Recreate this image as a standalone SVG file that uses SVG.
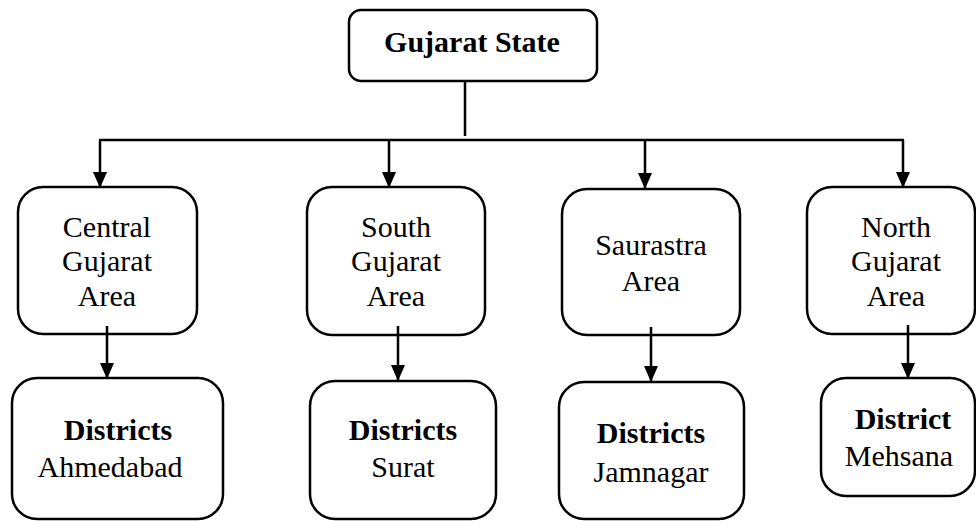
<svg xmlns="http://www.w3.org/2000/svg" width="976" height="521" viewBox="0 0 976 521">
<style>
.box{fill:#fff;stroke:#000;stroke-width:2.5}
.t{font-family:"Liberation Serif","Times New Roman",serif;font-size:30px;fill:#000;text-anchor:middle}
.b{font-weight:bold}
.c{fill:none;stroke:#000;stroke-width:2.5}
</style>
<defs>
<marker id="ah" markerUnits="userSpaceOnUse" markerWidth="16" markerHeight="16" viewBox="0 0 16 16" refX="16" refY="8" orient="auto">
<path d="M0,1 L16,8 L0,15 Z" fill="#000"/>
</marker>
</defs>
<rect width="976" height="521" fill="#fff"/>
<g id="connectors">
<line class="c" x1="465" y1="81" x2="465" y2="136"/>
<line class="c" x1="99" y1="140" x2="904" y2="140"/>
<line class="c" x1="100" y1="140" x2="100" y2="188" marker-end="url(#ah)"/>
<line class="c" x1="389" y1="140" x2="389" y2="188" marker-end="url(#ah)"/>
<line class="c" x1="645" y1="140" x2="645" y2="189" marker-end="url(#ah)"/>
<line class="c" x1="903" y1="140" x2="903" y2="188" marker-end="url(#ah)"/>
</g>
<g id="n-state">
<rect class="box" x="349" y="10" width="248" height="71" rx="12"/>
<text class="t b" x="472" y="52">Gujarat State</text>
</g>
<g id="n-central">
<rect class="box" x="18" y="187" width="179" height="147" rx="25"/>
<text class="t" x="107" y="237">Central</text>
<text class="t" x="107" y="271">Gujarat</text>
<text class="t" x="107" y="306">Area</text>
</g>
<g id="n-south">
<rect class="box" x="307" y="187" width="178" height="148" rx="25"/>
<text class="t" x="396" y="237">South</text>
<text class="t" x="396" y="271">Gujarat</text>
<text class="t" x="396" y="306">Area</text>
</g>
<g id="n-saurastra">
<rect class="box" x="562" y="189" width="178" height="146" rx="25"/>
<text class="t" x="651" y="255">Saurastra</text>
<text class="t" x="651" y="291">Area</text>
</g>
<g id="n-north">
<rect class="box" x="807" y="187" width="168" height="147" rx="25"/>
<text class="t" x="896" y="237">North</text>
<text class="t" x="896" y="271">Gujarat</text>
<text class="t" x="896" y="306">Area</text>
</g>
<g id="connectors2">
<line class="c" x1="107" y1="326" x2="107" y2="379" marker-end="url(#ah)"/>
<line class="c" x1="398" y1="326" x2="398" y2="381" marker-end="url(#ah)"/>
<line class="c" x1="651" y1="327" x2="651" y2="382" marker-end="url(#ah)"/>
<line class="c" x1="908" y1="325" x2="908" y2="379" marker-end="url(#ah)"/>
</g>
<g id="n-ahmedabad">
<rect class="box" x="12" y="378" width="211" height="141" rx="25"/>
<text class="t b" x="118" y="440">Districts</text>
<text class="t" x="110" y="477">Ahmedabad</text>
</g>
<g id="n-surat">
<rect class="box" x="310" y="381" width="186" height="138" rx="25"/>
<text class="t b" x="403" y="440">Districts</text>
<text class="t" x="403" y="477">Surat</text>
</g>
<g id="n-jamnagar">
<rect class="box" x="559" y="382" width="185" height="137" rx="25"/>
<text class="t b" x="651" y="443">Districts</text>
<text class="t" x="651" y="482">Jamnagar</text>
</g>
<g id="n-mehsana">
<rect class="box" x="821" y="378" width="154" height="118" rx="25"/>
<text class="t b" x="903" y="429">District</text>
<text class="t" x="899" y="466">Mehsana</text>
</g>
</svg>
